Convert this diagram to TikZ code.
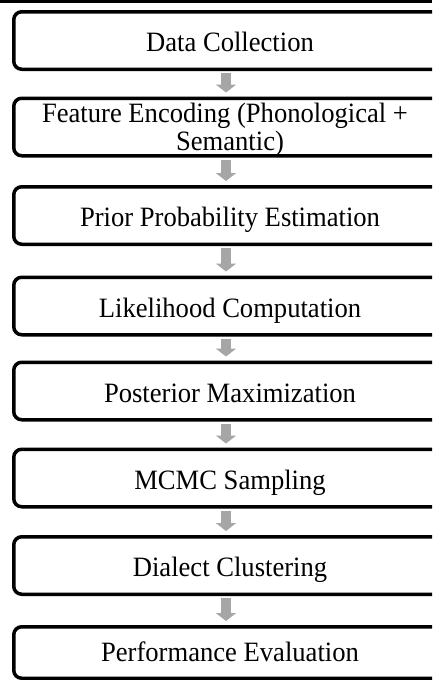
\documentclass[tikz,border=0pt]{standalone}
\usepackage{fontspec}
\setmainfont{Liberation Serif}
\newfontfamily\boxfont[FakeStretch=0.95]{Liberation Serif}
\usetikzlibrary{arrows.meta,calc}

\tikzset{
  stagebox/.style={draw=black, line width=3.5pt, rounded corners=8pt,
    minimum width=432.5pt, minimum height=57.5pt, inner sep=0pt,
    align=center, font=\boxfont\fontsize{28}{28}\selectfont,
    text height=24pt, text depth=2pt},
  flowarrow/.style={draw=black!35, line width=10pt,
    -{Triangle[width=20pt,length=8pt]}},
}

\begin{document}
\begin{tikzpicture}[x=1pt,y=-1pt]
  \useasboundingbox (0,0) rectangle (432,680);
  \clip (0,0) rectangle (432,680);
  \fill[white] (0,0) rectangle (432,680);

  % rule along the top edge
  \fill[black] (0,0) rectangle (432,2.5);

  % pipeline stages
  \node[stagebox] (s1) at (230,40.5)  {Data Collection};
  \node[stagebox, text height=, text depth=0pt] (s2) at (230,127)
    {Feature Encoding (Phonological +\hspace*{10pt}\\Semantic)};
  \node[stagebox] (s3) at (230,215.5) {Prior Probability Estimation};
  \node[stagebox] (s4) at (230,306)   {Likelihood Computation};
  \node[stagebox] (s5) at (230,391)   {Posterior Maximization};
  \node[stagebox] (s6) at (230,478)   {MCMC Sampling};
  \node[stagebox] (s7) at (230,565.5) {Dialect Clustering};
  \node[stagebox, minimum height=51.5pt, text height=22pt, text depth=4pt] (s8)
    at (230,652.5) {Performance Evaluation};

  % grey block arrows between consecutive stages
  \foreach \a/\b in {s1/s2,s2/s3,s3/s4,s4/s5,s5/s6,s6/s7,s7/s8}
    \draw[flowarrow] ($(\a.south)+(-4,2)$) -- ($(\b.north)+(-4,-4)$);
\end{tikzpicture}
\end{document}
